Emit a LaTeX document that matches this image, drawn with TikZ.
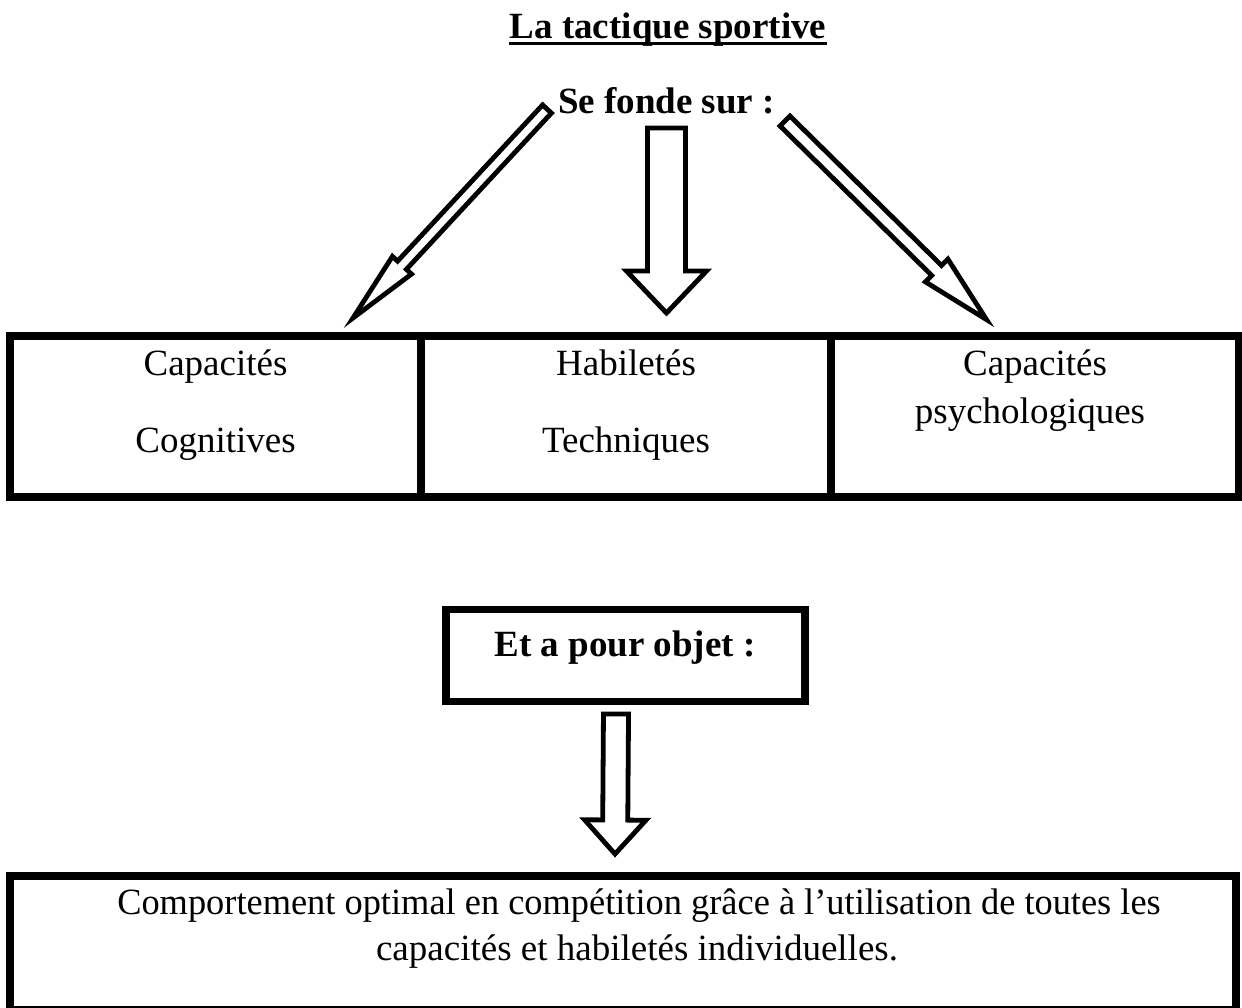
\documentclass[tikz,border=0pt]{standalone}
\usepackage{fontspec}
\setmainfont{Liberation Serif}
\usetikzlibrary{calc}

\tikzset{every picture/.style={line width=0.75pt}}
\tikzset{
	box/.style={draw, line width=5.6pt, inner sep=0pt, minimum height=120.75pt},
	txt/.style={inner sep=0pt, anchor=base, font=\fontsize{27.75}{33}\selectfont},
	hollow/.style={draw, fill=white, line width=3.6pt, line join=miter, miter limit=20}}

% hollow block arrow: tail, tip, shaft half width, head half width, head length
\newcommand{\blockarrow}[5]{%
	\coordinate (#1-h) at ($(#2)!#5!(#1)$);
	\draw[hollow] ($(#1)!#3!90:(#2)$) -- ($(#1-h)!#3!90:(#2)$) -- ($(#1-h)!#4!90:(#2)$) -- (#2)
		-- ($(#1-h)!#4!-90:(#2)$) -- ($(#1-h)!#3!-90:(#2)$) -- ($(#1)!#3!-90:(#2)$) -- cycle ;}

\begin{document}
\begin{tikzpicture}[x=0.75pt,y=0.75pt,yscale=-1,xscale=1]
	\useasboundingbox (0,0) rectangle (1242,1007);

	% Text Node
	\node [txt] (title) at (668,38) {\textbf{La tactique sportive}};
	\draw [line width=2.25pt] ([yshift=4.1pt]title.base west) -- ([yshift=4.1pt]title.base east);
	% Text Node
	\node [txt] (base) at (666.5,113) {\textbf{Se fonde sur :}};

	%Shape: Rectangle
	\node [box, minimum width=308.25pt] (cog) at (215.5,416.5) {};
	\node [box, minimum width=307.5pt] (tech) at (626,416.5) {};
	\node [box, minimum width=306pt] (psy) at (1035,416.5) {};

	% Text Node
	\node [txt] (cogA) at (215.5,375) {Capacités};
	\node [txt] (cogB) at (215.5,452) {Cognitives};
	\node [txt] (techA) at (626,375) {Habiletés};
	\node [txt] (techB) at (626,452) {Techniques};
	\node [txt] (psyA) at (1035,375) {Capacités};
	\node [txt] (psyB) at (1030,423) {psychologiques};

	%Right Arrow
	\coordinate (tailL) at (547,109);
	\coordinate (tipL) at (353,318);
	\blockarrow{tailL}{tipL}{4.5pt}{9.75pt}{54pt}
	%Right Arrow
	\coordinate (tailM) at (666.5,128);
	\coordinate (tipM) at (666.5,313);
	\blockarrow{tailM}{tipM}{14.25pt}{30pt}{31.5pt}
	%Right Arrow
	\coordinate (tailR) at (785,121);
	\coordinate (tipR) at (986.5,319.6);
	\blockarrow{tailR}{tipR}{5.25pt}{12pt}{52.5pt}

	%Shape: Rectangle
	\node [box, line width=5.3pt, minimum width=269.25pt, minimum height=69pt] (obj) at (625.5,655.5) {};
	% Text Node
	\node [txt] (objT) at (625,656) {\textbf{Et a pour objet :}};

	%Right Arrow
	\coordinate (tailB) at (616,714);
	\coordinate (tipB) at (615,854);
	\blockarrow{tailB}{tipB}{9.4pt}{23pt}{25.5pt}

	%Shape: Rectangle
	\node [box, minimum width=919.5pt, minimum height=100.5pt] (res) at (623,943) {};
	% Text Node
	\node [txt, xscale=0.983] (resA) at (639,914) {Comportement optimal en compétition grâce à l’utilisation de toutes les};
	\node [txt] (resB) at (637,960) {capacités et habiletés individuelles.};

\end{tikzpicture}
\end{document}
